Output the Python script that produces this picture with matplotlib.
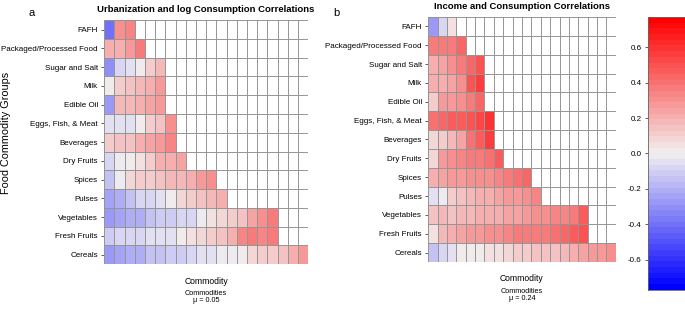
# correlation heatmaps: urbanization / income vs consumption

import numpy as np
import matplotlib.pyplot as plt
from matplotlib.colors import LinearSegmentedColormap

plt.rcParams['font.family'] = ['Liberation Sans', 'DejaVu Sans']
plt.rcParams['axes.unicode_minus'] = False

groups = ['FAFH', 'Packaged/Processed Food', 'Sugar and Salt', 'Milk', 'Edible Oil',
          'Eggs, Fish, & Meat', 'Beverages', 'Dry Fruits', 'Spices', 'Pulses',
          'Vegetables', 'Fresh Fruits', 'Cereals']
n_cols = 20

urban_corr = [
    [-0.40, 0.30, 0.35],
    [0.20, 0.22, 0.28, 0.36],
    [-0.30, -0.07, -0.04, 0.02, 0.12, 0.17],
    [0.03, 0.10, 0.15, 0.18, 0.22, 0.27],
    [-0.27, 0.18, 0.18, 0.20, 0.24, 0.27],
    [-0.04, -0.05, -0.05, 0.03, 0.12, 0.16, 0.30],
    [0.12, 0.15, 0.16, 0.20, 0.24, 0.28, 0.33],
    [-0.07, -0.03, 0.02, 0.05, 0.10, 0.20, 0.21, 0.24],
    [-0.14, -0.03, 0.09, 0.10, 0.11, 0.13, 0.17, 0.18, 0.22, 0.26, 0.30],
    [-0.24, -0.20, -0.14, -0.09, -0.09, -0.04, 0.03, 0.08, 0.12, 0.15, 0.19, 0.22],
    [-0.27, -0.24, -0.20, -0.20, -0.13, -0.12, -0.10, -0.07, -0.07, -0.02, 0.04, 0.07,
     0.10, 0.16, 0.25, 0.30, 0.38],
    [-0.10, -0.07, -0.08, -0.08, -0.06, -0.04, -0.04, 0.00, 0.05, 0.08, 0.11, 0.14,
     0.20, 0.34, 0.36, 0.33, 0.38],
    [-0.26, -0.24, -0.20, -0.20, -0.14, -0.13, -0.11, -0.10, -0.07, -0.06, -0.04, -0.03,
     -0.03, 0.00, 0.07, 0.10, 0.12, 0.15, 0.22, 0.28],
]

income_corr = [
    [-0.28, -0.07, 0.04],
    [0.38, 0.36, 0.37, 0.42],
    [0.20, 0.25, 0.30, 0.38, 0.42, 0.50],
    [0.22, 0.20, 0.25, 0.32, 0.50, 0.56],
    [0.10, 0.26, 0.28, 0.32, 0.36, 0.42],
    [0.40, 0.42, 0.46, 0.48, 0.50, 0.52, 0.58],
    [0.08, 0.10, 0.18, 0.25, 0.40, 0.45, 0.55],
    [0.07, 0.28, 0.30, 0.34, 0.36, 0.38, 0.40, 0.46],
    [0.20, 0.23, 0.26, 0.28, 0.30, 0.30, 0.32, 0.34, 0.36, 0.40, 0.44],
    [-0.06, -0.02, 0.12, 0.16, 0.18, 0.20, 0.22, 0.24, 0.26, 0.28, 0.30, 0.33],
    [0.16, 0.17, 0.16, 0.17, 0.18, 0.20, 0.20, 0.22, 0.23, 0.25, 0.28, 0.30,
     0.32, 0.33, 0.34, 0.36, 0.46],
    [0.04, 0.18, 0.20, 0.24, 0.26, 0.28, 0.30, 0.32, 0.34, 0.36, 0.36, 0.38,
     0.38, 0.40, 0.44, 0.46, 0.50],
    [-0.16, -0.08, -0.06, 0.02, 0.02, 0.02, 0.05, 0.06, 0.08, 0.10, 0.12, 0.13,
     0.16, 0.16, 0.18, 0.20, 0.24, 0.26, 0.28, 0.32],
]

titles = ['Urbanization and log Consumption Correlations', 'Income and Consumption Correlations']
means = ['0.05', '0.24']
vmin, vmax = -0.77, 0.77

cmap = LinearSegmentedColormap.from_list('bwr_r', ['#0000FF', '#F2F0F0', '#FF0000'], N=48)


def to_grid(rows):
	grid = np.full((len(rows), n_cols), np.nan)
	for i, r in enumerate(rows):
		grid[i, :len(r)] = r
	return np.ma.masked_invalid(grid)


def draw_panel(ax, rows, title, mu):
	grid = to_grid(rows)
	mesh = ax.pcolormesh(np.arange(n_cols + 1), np.arange(len(rows) + 1), grid,
	                     cmap=cmap, vmin=vmin, vmax=vmax)
	for x in range(n_cols + 1):
		ax.axvline(x, color='#959595', lw=0.7)
	for y in range(len(rows) + 1):
		ax.axhline(y, color='#959595', lw=0.7)
	ax.set_xlim(0, n_cols)
	ax.set_ylim(len(rows), 0)
	ax.set_yticks(np.arange(len(rows)) + 0.5)
	ax.set_yticklabels(groups, fontsize=5.8)
	ax.set_xticks([])
	ax.tick_params(axis='y', length=2.5, width=0.6, pad=2, color='#444444')
	for s in ax.spines.values():
		s.set_visible(False)
	ax.set_title(title, fontsize=6.8, fontweight='bold', pad=6)
	ax.set_xlabel('Commodity', fontsize=6.2, labelpad=9)
	ax.text(0.5, -0.108, 'Commodities\n\u03bc = ' + mu, transform=ax.transAxes,
	        ha='center', va='top', fontsize=5.2, linespacing=0.95)
	return mesh


fig = plt.figure(figsize=(6.85, 3.1), dpi=100)
ax1 = fig.add_axes([0.152, 0.148, 0.298, 0.787])
ax2 = fig.add_axes([0.625, 0.155, 0.274, 0.790])
cax = fig.add_axes([0.946, 0.065, 0.06, 0.880])

draw_panel(ax1, urban_corr, titles[0], means[0])
mesh = draw_panel(ax2, income_corr, titles[1], means[1])
fig.text(0.009, 0.571, 'Food Commodity Groups', fontsize=7.8, rotation=90,
         ha='center', va='center')

cb = fig.colorbar(mesh, cax=cax)
cb.set_ticks([-0.6, -0.4, -0.2, 0.0, 0.2, 0.4, 0.6])
cb.ax.yaxis.set_ticks_position('left')
cb.ax.tick_params(labelsize=5.8, length=2.5, width=0.6, pad=2, color='#444444')
cb.outline.set_edgecolor('#666666')
cb.outline.set_linewidth(0.6)

fig.text(0.041, 0.975, 'a', fontsize=8, va='top')
fig.text(0.487, 0.975, 'b', fontsize=8, va='top')

fig.savefig('out.png', dpi=100)
